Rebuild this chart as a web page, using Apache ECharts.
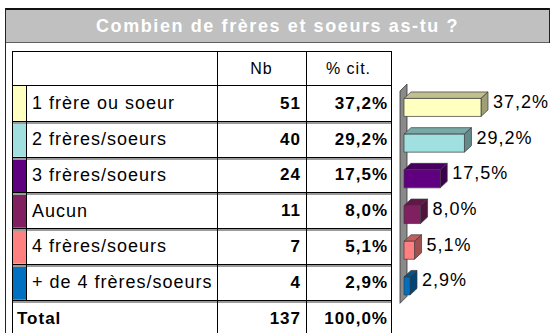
<!DOCTYPE html>
<html>
<head>
<meta charset="utf-8">
<script src="https://cdn.jsdelivr.net/npm/echarts@6/dist/echarts.min.js"></script>
<style>
  html, body { margin: 0; padding: 0; background: #fff; }
  #chart { width: 550px; height: 333px; }
  /* loose tracking of the survey's table font */
  #chart svg text { letter-spacing: 1px; }
  #chart svg text[style*="Arial"] { letter-spacing: 1.6px; }
</style>
</head>
<body>
<div id="chart"></div>
<script>
// ---- survey data ----
const title = 'Combien de frères et soeurs as-tu ?';
const headers = ['Nb', '% cit.'];
const categories = [
  '1 frère ou soeur',
  '2 frères/soeurs',
  '3 frères/soeurs',
  'Aucun',
  '4 frères/soeurs',
  '+ de 4 frères/soeurs'
];
const counts = [51, 40, 24, 11, 7, 4];
const percents = [37.2, 29.2, 17.5, 8.0, 5.1, 2.9];
const totalLabel = 'Total';
const totalCount = 137;
const totalPercent = 100.0;
const barColors = ['#ffffc0', '#a0e0e0', '#600080', '#802060', '#ff8080', '#0070c0'];

// ---- helpers ----
const fmtPct = v => v.toFixed(1).replace('.', ',') + '%';
function shade(hex, f) {
  const n = parseInt(hex.slice(1), 16);
  const r = Math.round(((n >> 16) & 255) * f);
  const g = Math.round(((n >> 8) & 255) * f);
  const b = Math.round((n & 255) * f);
  return 'rgb(' + r + ',' + g + ',' + b + ')';
}
const crisp = y => Math.round(y - 0.5) + 0.5;

const FONT = "'Liberation Sans'";
const TITLE_FONT = "'Liberation Sans', Arial";

// ---- table layout ----
const tbl = {
  left: 12, swatchRight: 26, labelRight: 217, nbRight: 306, right: 391,
  top: 51, bodyTop: 85.5, rowH: 35.75, labelX: 32
};

function line(x1, y1, x2, y2, stroke, w) {
  return { type: 'line', silent: true, z: 10,
    shape: { x1: x1, y1: y1, x2: x2, y2: y2 },
    style: { stroke: stroke, lineWidth: w || 1 } };
}
function text(str, x, y, font, align, fill) {
  return { type: 'text', silent: true, z: 12,
    style: { text: str, x: x, y: y, font: font, fill: fill || '#000',
      align: align, textAlign: align, verticalAlign: 'middle', textVerticalAlign: 'middle' } };
}

const els = [];
// outer frame and title band
els.push({ type: 'rect', silent: true, z: 5, shape: { x: 5, y: 9, width: 545, height: 33 }, style: { fill: '#c0c0c0' } });
els.push(line(5, 9, 550, 9, '#111', 2));
els.push(line(5, 42.5, 550, 42.5, '#606060', 1));
els.push(line(5.5, 8, 5.5, 333, '#222', 1));
els.push(line(549.5, 8, 549.5, 43, '#222', 1));
els.push(text(title, 277.5, 25.5, 'bold 18px ' + TITLE_FONT, 'center', '#ffffff'));

// header row
els.push(text(headers[0], (tbl.labelRight + tbl.nbRight) / 2, 68.5, '16px ' + FONT, 'center'));
els.push(text(headers[1], (tbl.nbRight + tbl.right) / 2, 68.5, '16px ' + FONT, 'center'));

const rowCount = categories.length + 1;
const bottom = tbl.bodyTop + tbl.rowH * rowCount;

// body rows
categories.forEach((cat, i) => {
  const y0 = tbl.bodyTop + tbl.rowH * i;
  const yc = y0 + tbl.rowH / 2;
  els.push({ type: 'rect', silent: true, z: 8,
    shape: { x: tbl.left, y: crisp(y0) + 0.5, width: tbl.swatchRight - tbl.left, height: tbl.rowH - 1 },
    style: { fill: barColors[i] } });
  els.push(text(cat, tbl.labelX, yc, '18px ' + FONT, 'left'));
  els.push(text(String(counts[i]), tbl.nbRight - 5, yc, 'bold 17px ' + FONT, 'right'));
  els.push(text(fmtPct(percents[i]), tbl.right - 3, yc, 'bold 17px ' + FONT, 'right'));
});
// total row
const yTot = tbl.bodyTop + tbl.rowH * categories.length + tbl.rowH / 2 + 1;
els.push(text(totalLabel, 17, yTot, 'bold 17px ' + FONT, 'left'));
els.push(text(String(totalCount), tbl.nbRight - 5, yTot, 'bold 17px ' + FONT, 'right'));
els.push(text(fmtPct(totalPercent), tbl.right - 3, yTot, 'bold 17px ' + FONT, 'right'));

// grid lines of the table
els.push(line(tbl.left, tbl.top + 0.5, tbl.right, tbl.top + 0.5, '#000', 1));
els.push(line(tbl.left, tbl.bodyTop, tbl.right, tbl.bodyTop, '#000', 1));
for (let k = 1; k < rowCount; k++) {
  const y = crisp(tbl.bodyTop + tbl.rowH * k);
  els.push(line(tbl.left, y + 1.5, tbl.right, y + 1.5, '#9a9a9a', 2));
  els.push(line(tbl.left, y, tbl.right, y, '#000', 1));
}
els.push(line(tbl.left, crisp(bottom), tbl.right, crisp(bottom), '#000', 1));
els.push(line(tbl.left + 0.5, tbl.top, tbl.left + 0.5, bottom, '#000', 1));
els.push(line(tbl.swatchRight + 0.5, tbl.bodyTop, tbl.swatchRight + 0.5, crisp(tbl.bodyTop + tbl.rowH * categories.length), '#000', 1));
els.push(line(tbl.labelRight + 0.5, tbl.top, tbl.labelRight + 0.5, bottom, '#000', 1));
els.push(line(tbl.nbRight + 0.5, tbl.top, tbl.nbRight + 0.5, bottom, '#000', 1));
els.push(line(tbl.right + 0.5, tbl.top, tbl.right + 0.5, bottom, '#000', 1));

// ---- 3D bars ----
const DX = 7, DY = 6.5, BAR_H = 18;

function renderWall(params, api) {
  const first = api.coord([0, 0]);
  const last = api.coord([0, categories.length - 1]);
  const band = api.size([0, 1])[1];
  const xf = first[0] - 4;
  const yt = first[1] - band / 2 + 1.5;
  const yb = last[1] + band / 2 - 0.5;
  return {
    type: 'polygon',
    shape: { points: [[xf, yt], [xf + DX, yt - DY - 0.5], [xf + DX, yb - DY - 0.5], [xf, yb]] },
    style: { fill: '#8a8a8a', stroke: '#333', lineWidth: 0.8 }
  };
}

function renderBar(params, api) {
  const v = api.value(0), i = api.value(1);
  const p0 = api.coord([0, i]);
  const p1 = api.coord([v, i]);
  const x0 = p0[0], xe = p1[0], yc = p0[1];
  const top = yc - BAR_H / 2, bot = yc + BAR_H / 2;
  const c = barColors[i];
  const edge = { stroke: '#3a3a3a', lineWidth: 0.7 };
  return {
    type: 'group',
    children: [
      { type: 'polygon',
        shape: { points: [[x0, top], [x0 + DX, top - DY], [xe + DX, top - DY], [xe, top]] },
        style: Object.assign({ fill: shade(c, 0.75) }, edge) },
      { type: 'polygon',
        shape: { points: [[xe, top], [xe + DX, top - DY], [xe + DX, bot - DY], [xe, bot]] },
        style: Object.assign({ fill: shade(c, 0.62) }, edge) },
      { type: 'rect',
        shape: { x: x0, y: top, width: xe - x0, height: BAR_H },
        style: Object.assign({ fill: c }, edge) },
      { type: 'text',
        style: { text: fmtPct(v), x: xe + DX + 5, y: yc - 5.5, font: '18px ' + FONT, fill: '#000',
          align: 'left', textAlign: 'left', verticalAlign: 'middle', textVerticalAlign: 'middle' } }
    ]
  };
}

const chart = echarts.init(document.getElementById('chart'), null, { renderer: 'svg' });
chart.setOption({
  animation: false,
  backgroundColor: '#fff',
  grid: { left: 404, top: 89.6, width: 103.5, height: 214.2, containLabel: false },
  xAxis: { type: 'value', min: 0, max: 50, show: false },
  yAxis: { type: 'category', data: categories, inverse: true, show: false },
  graphic: { elements: els },
  series: [
    { type: 'custom', name: 'wall', data: [[0, 0]], encode: { x: 0, y: 1 },
      renderItem: renderWall, clip: false, silent: true, z: 1 },
    { type: 'custom', name: '% cit.', data: percents.map((v, i) => [v, i]), encode: { x: 0, y: 1 },
      renderItem: renderBar, clip: false, silent: true, z: 2 }
  ]
});
</script>
</body>
</html>
